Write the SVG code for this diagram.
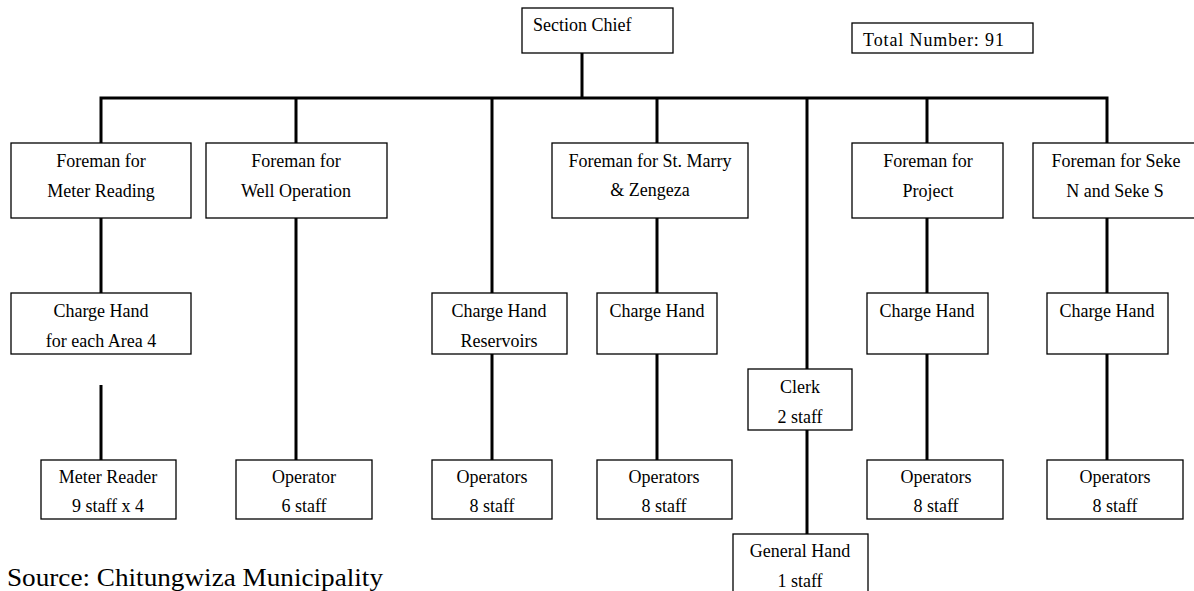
<svg xmlns="http://www.w3.org/2000/svg" width="1194" height="591" viewBox="0 0 1194 591">
<style>
.box{fill:#fff;stroke:#000;stroke-width:1.3}
.t{font-family:"Liberation Serif","Times New Roman",serif;font-size:18px;fill:#000;text-anchor:middle}
.c{fill:none;stroke:#000;stroke-width:3}
</style>
<rect width="1194" height="591" fill="#fff"/>
<g id="connectors">
<path class="c" d="M582 53V98M101 143V98H1107V143"/>
<path class="c" d="M101 218V293M101 385V460"/>
<path class="c" d="M296 98V143M296 218V460"/>
<path class="c" d="M492 98V293M492 354V460"/>
<path class="c" d="M657 98V143M657 218V293M657 354V460"/>
<path class="c" d="M807 98V369M807 430V534"/>
<path class="c" d="M927 98V143M927 218V293M927 354V460"/>
<path class="c" d="M1107 218V293M1107 354V460"/>
</g>
<g id="section-chief"><rect class="box" x="522" y="8" width="151" height="45"/><text class="t" x="533" y="31" style="text-anchor:start">Section Chief</text></g>
<g id="total"><rect class="box" x="852" y="23" width="181" height="30"/><text class="t" x="863" y="46" style="text-anchor:start" textLength="141" lengthAdjust="spacing">Total Number: 91</text></g>
<g id="foreman-meter"><rect class="box" x="11" y="143" width="180" height="75"/><text class="t" x="101" y="167">Foreman for</text><text class="t" x="101" y="197">Meter Reading</text></g>
<g id="foreman-well"><rect class="box" x="206" y="143" width="181" height="75"/><text class="t" x="296" y="167">Foreman for</text><text class="t" x="296" y="197">Well Operation</text></g>
<g id="foreman-marry"><rect class="box" x="552" y="143" width="196" height="75"/><text class="t" x="650" y="167">Foreman for St. Marry</text><text class="t" x="650" y="196">&amp; Zengeza</text></g>
<g id="foreman-project"><rect class="box" x="852" y="143" width="151" height="75"/><text class="t" x="928" y="167">Foreman for</text><text class="t" x="928" y="197">Project</text></g>
<g id="foreman-seke"><rect class="box" x="1033" y="143" width="170" height="75"/><text class="t" x="1116" y="167">Foreman for Seke</text><text class="t" x="1115" y="197">N and Seke S</text></g>
<g id="ch-meter"><rect class="box" x="11" y="293" width="180" height="61"/><text class="t" x="101" y="317">Charge Hand</text><text class="t" x="101" y="347">for each Area 4</text></g>
<g id="ch-reservoirs"><rect class="box" x="432" y="293" width="135" height="61"/><text class="t" x="499" y="317">Charge Hand</text><text class="t" x="499" y="347">Reservoirs</text></g>
<g id="ch-marry"><rect class="box" x="597" y="293" width="120" height="61"/><text class="t" x="657" y="317">Charge Hand</text></g>
<g id="ch-project"><rect class="box" x="867" y="293" width="121" height="61"/><text class="t" x="927" y="317">Charge Hand</text></g>
<g id="ch-seke"><rect class="box" x="1047" y="293" width="121" height="61"/><text class="t" x="1107" y="317">Charge Hand</text></g>
<g id="clerk"><rect class="box" x="748" y="369" width="104" height="61"/><text class="t" x="800" y="393">Clerk</text><text class="t" x="800" y="423">2 staff</text></g>
<g id="general-hand"><rect class="box" x="733" y="534" width="135" height="70"/><text class="t" x="800" y="557">General Hand</text><text class="t" x="800" y="587">1 staff</text></g>
<g id="meter-reader"><rect class="box" x="41" y="460" width="135" height="59"/><text class="t" x="108" y="483">Meter Reader</text><text class="t" x="108" y="512">9 staff x 4</text></g>
<g id="operator-well"><rect class="box" x="236" y="460" width="136" height="59"/><text class="t" x="304" y="483">Operator</text><text class="t" x="304" y="512">6 staff</text></g>
<g id="operators-reservoirs"><rect class="box" x="432" y="460" width="120" height="59"/><text class="t" x="492" y="483">Operators</text><text class="t" x="492" y="512">8 staff</text></g>
<g id="operators-marry"><rect class="box" x="597" y="460" width="135" height="59"/><text class="t" x="664" y="483">Operators</text><text class="t" x="664" y="512">8 staff</text></g>
<g id="operators-project"><rect class="box" x="867" y="460" width="136" height="59"/><text class="t" x="936" y="483">Operators</text><text class="t" x="936" y="512">8 staff</text></g>
<g id="operators-seke"><rect class="box" x="1047" y="460" width="136" height="59"/><text class="t" x="1115" y="483">Operators</text><text class="t" x="1115" y="512">8 staff</text></g>
<text x="7" y="586" style="font-family:'Liberation Serif','Times New Roman',serif;font-size:25px" textLength="376" lengthAdjust="spacingAndGlyphs">Source: Chitungwiza Municipality</text>
</svg>
